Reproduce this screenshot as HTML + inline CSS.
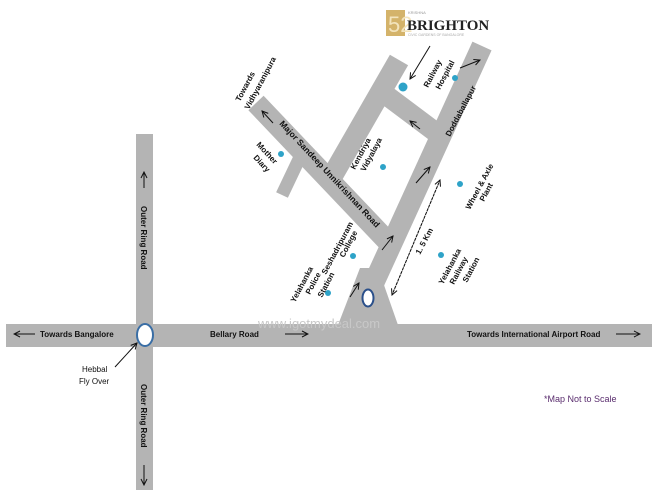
<!DOCTYPE html>
<html><head><meta charset="utf-8"><style>
body{margin:0;background:#fff}
svg{display:block}
text{font-family:"Liberation Sans",sans-serif;font-weight:bold;font-size:8px;fill:#111}
</style></head><body>
<svg width="660" height="500" viewBox="0 0 660 500">
<defs><marker id="a" markerWidth="8" markerHeight="8" refX="7" refY="4" orient="auto" markerUnits="userSpaceOnUse"><path d="M1,1 L7,4 L1,7" fill="none" stroke="#111" stroke-width="1"/></marker></defs>
<g fill="#b4b4b4" stroke="none">
<rect x="6" y="324" width="646" height="23"/>
<rect x="136" y="134" width="17" height="356"/>
<polygon points="338,325 398,325 378,268 360,268"/>
</g>
<g stroke="#b4b4b4" stroke-linecap="butt" fill="none">
<line x1="366" y1="300" x2="482" y2="46" stroke-width="21"/>
<line x1="399" y1="60" x2="330" y2="180" stroke-width="21"/>
<line x1="256" y1="103" x2="392" y2="246" stroke-width="21"/>
<line x1="301" y1="155" x2="282" y2="195" stroke-width="13"/>
<line x1="382" y1="92" x2="442" y2="137" stroke-width="20"/>
</g>
<rect x="386" y="10" width="19" height="26" fill="#d4b36a"/>
<text x="388" y="32" style="font-size:22px;fill:#f3e4bd;font-weight:normal">52</text>
<text x="407" y="30" style="font-family:'Liberation Serif',serif;font-size:15px;fill:#222">BRIGHTON</text>
<text x="408" y="14" style="font-size:4px;font-weight:normal;fill:#999">KRISHNA</text>
<text x="408" y="36" style="font-size:3.5px;font-weight:normal;fill:#aaa">CIVIC GARDENS OF BANGALORE</text>
<g stroke="#111" stroke-width="1" fill="none" marker-end="url(#a)">
<line x1="430" y1="46" x2="410" y2="79"/>
<line x1="35" y1="334" x2="14" y2="334"/>
<line x1="285" y1="334" x2="308" y2="334"/>
<line x1="616" y1="334" x2="640" y2="334"/>
<line x1="144" y1="188" x2="144" y2="172"/>
<line x1="144" y1="465" x2="144" y2="485"/>
<line x1="115" y1="367" x2="137" y2="343"/>
<line x1="273" y1="123" x2="262" y2="111"/>
<line x1="420" y1="129" x2="410" y2="121"/>
<line x1="460" y1="68" x2="480" y2="60"/>
<line x1="416" y1="183" x2="430" y2="167"/>
<line x1="382" y1="250" x2="393" y2="236"/>
<line x1="350" y1="297" x2="359" y2="283"/>
<line x1="392" y1="295" x2="440" y2="180" stroke-dasharray="2,2"/>
<line x1="440" y1="180" x2="392" y2="295" stroke-dasharray="2,2"/>
</g>
<ellipse cx="145" cy="335" rx="8" ry="11" fill="#fff" stroke="#3a6ea5" stroke-width="2"/>
<ellipse cx="368" cy="298" rx="5.5" ry="8.5" fill="#fff" stroke="#2a4f8a" stroke-width="2"/>
<g fill="#2ea3c8">
<circle cx="403" cy="87" r="4.5"/><circle cx="455" cy="78" r="3"/>
<circle cx="281" cy="154" r="3"/><circle cx="383" cy="167" r="3"/>
<circle cx="460" cy="184" r="3"/><circle cx="353" cy="256" r="3"/>
<circle cx="441" cy="255" r="3"/><circle cx="328" cy="293" r="3"/>
</g>
<text x="40" y="337">Towards Bangalore</text>
<text x="210" y="337">Bellary Road</text>
<text x="467" y="337">Towards International Airport Road</text>
<text x="82" y="372" style="font-weight:normal">Hebbal</text>
<text x="79" y="384" style="font-weight:normal">Fly Over</text>
<text transform="translate(141,206) rotate(90)">Outer Ring Road</text>
<text transform="translate(141,384) rotate(90)">Outer Ring Road</text>
<text x="544" y="402" style="font-weight:normal;fill:#5a2d6e;font-size:9px">*Map Not to Scale</text>
<text transform="translate(240,102) rotate(-62)">Towards</text>
<text transform="translate(249,110) rotate(-62)">Vidhyaranipura</text>
<text transform="translate(279,124) rotate(47)" style="font-size:8.6px">Major Sandeep Unnikrishnan Road</text>
<text transform="translate(256,145) rotate(47)">Mother</text>
<text transform="translate(253,158) rotate(47)">Diary</text>
<text transform="translate(355,170) rotate(-62)">Kendriya</text>
<text transform="translate(365,172) rotate(-62)">Vidyalaya</text>
<text transform="translate(428,88) rotate(-62)">Railway</text>
<text transform="translate(440,90) rotate(-62)">Hospital</text>
<text transform="translate(450,137) rotate(-62)">Doddaballapur</text>
<text transform="translate(470,210) rotate(-62)">Wheel &amp; Axle</text>
<text transform="translate(484,202) rotate(-62)">Plant</text>
<text transform="translate(420,255) rotate(-62)">1. 5 Km</text>
<text transform="translate(443,285) rotate(-62)">Yelahanka</text>
<text transform="translate(454,285) rotate(-62)">Railway</text>
<text transform="translate(467,283) rotate(-62)">Station</text>
<text transform="translate(326,275) rotate(-62)">Seshadripuram</text>
<text transform="translate(344,258) rotate(-62)">College</text>
<text transform="translate(295,303) rotate(-62)">Yelahanka</text>
<text transform="translate(310,295) rotate(-62)">Police</text>
<text transform="translate(322,298) rotate(-62)">Station</text>
<text x="258" y="328" style="font-weight:normal;font-size:13px;fill:#c8c8c8">www.igotmydeal.com</text>
</svg>
</body></html>
